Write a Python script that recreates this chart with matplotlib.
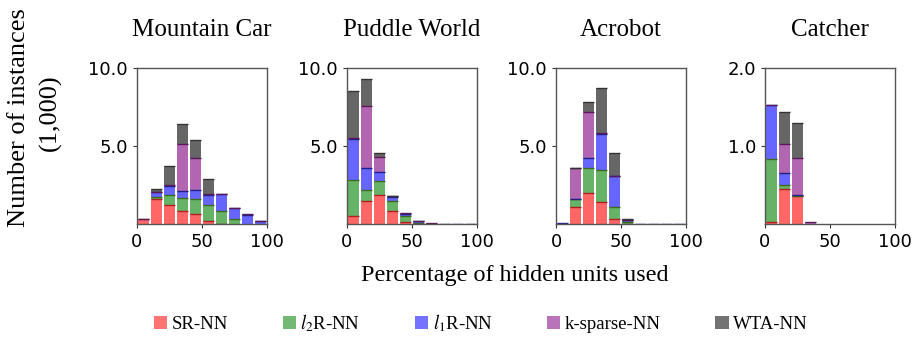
import matplotlib
matplotlib.use("Agg")
import matplotlib.pyplot as plt
from matplotlib.patches import Patch
import numpy as np

plt.rcParams['mathtext.fontset'] = 'stix'
SERIF = 'Liberation Serif'

bin_centers = [5, 15, 25, 35, 45, 55, 65, 75, 85, 95]
titles = ["Mountain Car", "Puddle World", "Acrobot", "Catcher"]
series_names = ["SR-NN", "$l_2$R-NN", "$l_1$R-NN", "k-sparse-NN", "WTA-NN"]

# counts (thousands) per bin, stacked in order SR, l2, l1, k-sparse, WTA
mc_sr     = [0.32, 1.62, 1.24, 0.81, 0.64, 0.17, 0.02, 0.0, 0.0, 0.0]
mc_l2     = [0.0, 0.13, 0.62, 0.84, 0.98, 1.07, 0.83, 0.32, 0.0, 0.0]
mc_l1     = [0.0, 0.30, 0.60, 0.49, 0.58, 0.62, 1.07, 0.68, 0.60, 0.17]
mc_ks     = [0.03, 0.03, 0.04, 2.96, 2.01, 0.04, 0.03, 0.05, 0.02, 0.05]
mc_wta    = [0.0, 0.15, 1.24, 1.33, 1.15, 1.0, 0.0, 0.0, 0.0, 0.0]

pw_sr     = [0.49, 1.50, 1.89, 0.82, 0.13, 0.02, 0.0, 0.0, 0.0, 0.0]
pw_l2     = [2.30, 0.67, 0.86, 0.64, 0.36, 0.07, 0.02, 0.0, 0.0, 0.0]
pw_l1     = [2.66, 1.41, 0.58, 0.30, 0.15, 0.08, 0.01, 0.01, 0.01, 0.01]
pw_ks     = [0.05, 3.99, 0.96, 0.01, 0.04, 0.03, 0.01, 0.0, 0.0, 0.0]
pw_wta    = [3.02, 1.72, 0.24, 0.02, 0.0, 0.0, 0.0, 0.0, 0.0, 0.0]

ac_sr     = [0.0, 1.09, 2.00, 1.39, 0.32, 0.02, 0.0, 0.0, 0.0, 0.0]
ac_l2     = [0.0, 0.50, 1.56, 2.04, 0.80, 0.08, 0.0, 0.0, 0.0, 0.0]
ac_l1     = [0.04, 0.02, 0.64, 2.36, 1.93, 0.14, 0.02, 0.01, 0.01, 0.01]
ac_ks     = [0.0, 1.99, 3.00, 0.03, 0.03, 0.02, 0.0, 0.0, 0.0, 0.0]
ac_wta    = [0.0, 0.02, 0.61, 2.89, 1.45, 0.06, 0.0, 0.0, 0.0, 0.0]

ca_sr     = [0.02, 0.45, 0.36, 0.0, 0.0, 0.0, 0.0, 0.0, 0.0, 0.0]
ca_l2     = [0.81, 0.05, 0.005, 0.0, 0.0, 0.0, 0.0, 0.0, 0.0, 0.0]
ca_l1     = [0.69, 0.16, 0.005, 0.0, 0.0, 0.0, 0.0, 0.0, 0.0, 0.0]
ca_ks     = [0.005, 0.36, 0.48, 0.02, 0.0, 0.0, 0.0, 0.0, 0.0, 0.0]
ca_wta    = [0.0, 0.41, 0.44, 0.0, 0.0, 0.0, 0.0, 0.0, 0.0, 0.0]

panels = [
    [mc_sr, mc_l2, mc_l1, mc_ks, mc_wta],
    [pw_sr, pw_l2, pw_l1, pw_ks, pw_wta],
    [ac_sr, ac_l2, ac_l1, ac_ks, ac_wta],
    [ca_sr, ca_l2, ca_l1, ca_ks, ca_wta],
]
ylims = [10, 10, 10, 2]
yticks = [[5, 10], [5, 10], [5, 10], [1, 2]]

base_colors = ["red", "green", "blue", "purple", "black"]
edge_colors = ["#b02020", "#3d6b1e", "#20208a", "#5a1a5a", "#333333"]

fig = plt.figure(figsize=(9.15, 3.37), dpi=100)
lefts = [137, 347, 556, 765]
W, H = 915, 337
ax_w = 130
for i, (data, ttl) in enumerate(zip(panels, titles)):
    ax = fig.add_axes([lefts[i] / W, 1 - 224 / H, ax_w / W, 156 / H])
    bottom = np.zeros(len(bin_centers))
    for s, vals in enumerate(data):
        vals = np.array(vals)
        ax.bar(bin_centers, vals, width=8.2, bottom=bottom, color=base_colors[s],
               alpha=0.6, linewidth=0)
        top = bottom + vals
        mask = vals > 0
        ax.hlines(top[mask], np.array(bin_centers)[mask] - 4.1, np.array(bin_centers)[mask] + 4.1,
                  colors=edge_colors[s], linewidth=1.0)
        bottom = top
    ax.set_xlim(0, 100)
    ax.set_ylim(0, ylims[i])
    ax.set_xticks([0, 50, 100])
    ax.set_yticks(yticks[i])
    ax.set_yticklabels([f"{v:.1f}" for v in yticks[i]])
    ax.tick_params(labelsize=13, length=3, width=0.8, colors='#333333', labelcolor='black')
    for sp in ax.spines.values():
        sp.set_color('#555555')
        sp.set_linewidth(1.0)
    ax.set_title(ttl, fontsize=18, family=SERIF, pad=0, y=1 + 38 / 156, va='center')

fig.text(19 / W, 1 - 118 / H, "Number of instances", rotation=90, ha='center', va='center',
         fontsize=19, family=SERIF)
fig.text(50 / W, 1 - 113 / H, "(1,000)", rotation=90, ha='center', va='center',
         fontsize=19, family=SERIF)
fig.text(515 / W, 1 - 275 / H, "Percentage of hidden units used", ha='center', va='center',
         fontsize=17.4, family=SERIF)

handles = [Patch(facecolor=c, alpha=0.55, edgecolor='none') for c in base_colors]
leg = fig.legend(handles, series_names, loc='center', bbox_to_anchor=(481 / W, 1 - 323 / H), ncol=5,
                 frameon=False, prop={'family': SERIF, 'size': 13.5}, columnspacing=2.9,
                 handlelength=0.7, handleheight=0.7, handletextpad=0.25)

fig.savefig("out.png", dpi=100)
